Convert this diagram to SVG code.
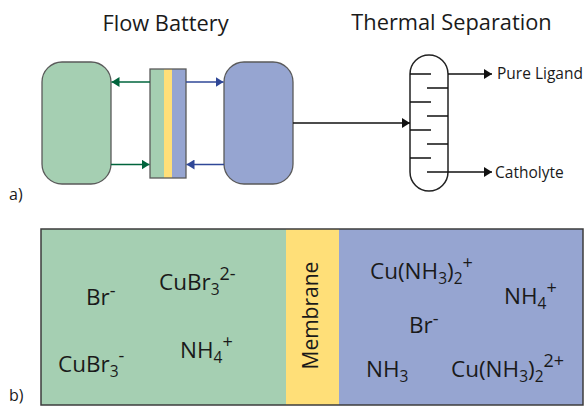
<svg xmlns="http://www.w3.org/2000/svg" width="585" height="407" viewBox="0 0 585 407">
<style>
text{font-family:"Open Sans","Noto Sans","Liberation Sans",sans-serif;fill:#1a1a1a}
.t{font-size:21.800px}.l{font-size:15.500px}.i{font-size:22.500px}.s{font-size:15.500px}.u{font-size:18px}
.tank{stroke:#5a5a5a;stroke-width:1.3}
.g{fill:#a5cfb2}.b{fill:#96a5d1}.y{fill:#ffdf78}
.k{stroke:#111;stroke-width:1.5;fill:none}
</style>
<defs>
<marker id="ak" markerUnits="userSpaceOnUse" markerWidth="9" markerHeight="10" refX="8" refY="5" orient="auto"><path d="M0 0L8 5L0 10Z" fill="#111"/></marker>
<marker id="ag" markerUnits="userSpaceOnUse" markerWidth="9" markerHeight="10" refX="8" refY="5" orient="auto"><path d="M0 0L8 5L0 10Z" fill="#00643c"/></marker>
<marker id="ab" markerUnits="userSpaceOnUse" markerWidth="9" markerHeight="10" refX="8" refY="5" orient="auto"><path d="M0 0L8 5L0 10Z" fill="#2f4797"/></marker>
</defs>
<text class="t" x="165.500" y="31" text-anchor="middle">Flow Battery</text>
<text class="t" x="451.500" y="30" text-anchor="middle">Thermal Separation</text>
<text x="9" y="200" style="font-size:16px">a)</text>
<text x="9" y="401" style="font-size:16px">b)</text>
<g id="tank-left"><rect class="tank g" x="42" y="62" width="69" height="122" rx="20"/></g>
<g id="tank-right"><rect class="tank b" x="224" y="62" width="69" height="122" rx="20"/></g>
<g id="cell">
<rect class="g" x="150" y="69" width="14" height="109"/><rect class="y" x="164" y="69" width="8" height="109"/><rect class="b" x="172" y="69" width="14" height="109"/>
<rect x="150" y="69" width="36" height="109" fill="none" stroke="#5a5a5a" stroke-width="1.3"/>
</g>
<g id="column">
<rect x="410" y="55" width="38" height="136" rx="19" fill="#fff" stroke="#222" stroke-width="1.5"/>
<path class="k" d="M410 74H431M427 88H448M410 102H431M427 116H448M410 130H431M427 144H448M410 158H431"/>
</g>
<g id="connectors">
<path d="M150 82H111.500" stroke="#00643c" stroke-width="1.500" marker-end="url(#ag)"/>
<path d="M111 164.500H149.500" stroke="#00643c" stroke-width="1.500" marker-end="url(#ag)"/>
<path d="M186 82H223.500" stroke="#2f4797" stroke-width="1.500" marker-end="url(#ab)"/>
<path d="M224 164.500H186.500" stroke="#2f4797" stroke-width="1.500" marker-end="url(#ab)"/>
<path class="k" d="M293 123H410" marker-end="url(#ak)"/>
<path class="k" d="M448 74H492" marker-end="url(#ak)"/>
<path class="k" d="M427 172H492" marker-end="url(#ak)"/>
</g>
<text class="l" x="497" y="79">Pure Ligand</text>
<text class="l" x="495" y="178">Catholyte</text>
<g id="panel">
<rect class="g" x="41" y="229" width="245" height="176"/>
<rect class="y" x="286" y="229" width="53" height="176"/>
<rect class="b" x="339" y="229" width="244" height="176"/>
<rect x="41" y="229" width="542" height="176" fill="none" stroke="#3c3c3c" stroke-width="1.500"/>
</g>
<text transform="translate(318 369.500) rotate(-90)" style="font-size:21px">Membrane</text>
<text class="i" x="86" y="304.500">Br<tspan class="u" dy="-8">-</tspan></text>
<text class="i" x="159" y="290">CuBr<tspan class="s" dy="5">3</tspan><tspan class="u" dy="-15">2-</tspan></text>
<text class="i" x="58" y="372">CuBr<tspan class="s" dy="5">3</tspan><tspan class="u" dy="-15">-</tspan></text>
<text class="i" x="180" y="358">NH<tspan class="s" dy="5">4</tspan><tspan class="u" dy="-15">+</tspan></text>
<text class="i" x="370" y="279">Cu(NH<tspan class="s" dy="5">3</tspan><tspan dy="-5">)</tspan><tspan class="s" dy="5">2</tspan><tspan class="u" dy="-15">+</tspan></text>
<text class="i" x="504" y="304">NH<tspan class="s" dy="5">4</tspan><tspan class="u" dy="-15">+</tspan></text>
<text class="i" x="409" y="333">Br<tspan class="u" dy="-8">-</tspan></text>
<text class="i" x="366" y="377">NH<tspan class="s" dy="5">3</tspan></text>
<text class="i" x="451" y="377">Cu(NH<tspan class="s" dy="5">3</tspan><tspan dy="-5">)</tspan><tspan class="s" dy="5">2</tspan><tspan class="u" dy="-15">2+</tspan></text>
</svg>
